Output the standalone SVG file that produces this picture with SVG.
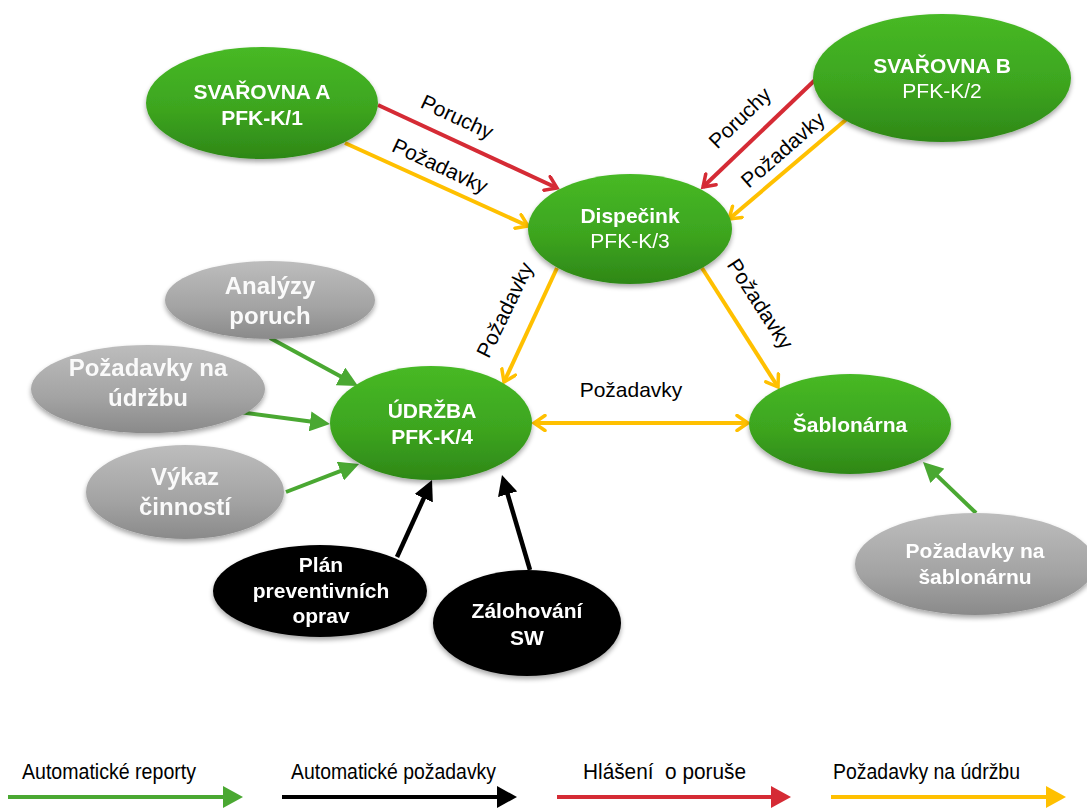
<svg xmlns="http://www.w3.org/2000/svg" width="1087" height="808" viewBox="0 0 1087 808">
  <style>
    .lbl { font-family: "Liberation Sans", Arial, sans-serif; font-size: 21px; fill: #000; text-anchor: middle; }
    .nt { font-family: "Liberation Sans", Arial, sans-serif; font-size: 21px; fill: #fff; text-anchor: middle; }
    .b { font-weight: bold; }
    .gt { font-family: "Liberation Sans", Arial, sans-serif; font-size: 24px; font-weight: bold; fill: #fafafa; text-anchor: middle; }
    .leg { font-family: "Liberation Sans", Arial, sans-serif; font-size: 22px; fill: #000; white-space: pre; }
    .red { stroke: #d52b35; stroke-width: 4; fill: none; }
    .yel { stroke: #ffc000; stroke-width: 4; fill: none; }
    .grn { stroke: #4aa832; stroke-width: 4; fill: none; }
    .blk { stroke: #000; stroke-width: 4.5; fill: none; }
  </style>
  <defs>
    <linearGradient id="greenFill" x1="0" y1="0" x2="0" y2="1">
      <stop offset="0" stop-color="#47b925"/>
      <stop offset="0.55" stop-color="#3da51f"/>
      <stop offset="1" stop-color="#2e8717"/>
    </linearGradient>
    <linearGradient id="grayFill" x1="0" y1="0" x2="0" y2="1">
      <stop offset="0" stop-color="#bdbdbd"/>
      <stop offset="0.6" stop-color="#a3a3a3"/>
      <stop offset="1" stop-color="#8a8a8a"/>
    </linearGradient>
    <filter id="shadow" x="-20%" y="-20%" width="140%" height="150%">
      <feGaussianBlur in="SourceAlpha" stdDeviation="2.5"/>
      <feOffset dy="3" result="o"/>
      <feComponentTransfer><feFuncA type="linear" slope="0.35"/></feComponentTransfer>
      <feMerge><feMergeNode/><feMergeNode in="SourceGraphic"/></feMerge>
    </filter>
    <!-- open chevron heads -->
    <marker id="vRed" viewBox="0 0 18 18" refX="15" refY="9" markerWidth="18" markerHeight="18" markerUnits="userSpaceOnUse" orient="auto">
      <path d="M4,1.5 L15,9 L4,16.5" fill="none" stroke="#d52b35" stroke-width="3.5" stroke-linecap="round"/>
    </marker>
    <marker id="vYel" viewBox="0 0 18 18" refX="15" refY="9" markerWidth="18" markerHeight="18" markerUnits="userSpaceOnUse" orient="auto-start-reverse">
      <path d="M4,1.5 L15,9 L4,16.5" fill="none" stroke="#ffc000" stroke-width="3.5" stroke-linecap="round"/>
    </marker>
    <!-- filled triangle heads; the line stops inside the base -->
    <marker id="tGrn" viewBox="0 0 20 20" refX="4" refY="10" markerWidth="20" markerHeight="20" markerUnits="userSpaceOnUse" orient="auto">
      <path d="M0,0 L20,10 L0,20 Z" fill="#4aa832"/>
    </marker>
    <marker id="tBlk" viewBox="0 0 20 20" refX="4" refY="10" markerWidth="20" markerHeight="20" markerUnits="userSpaceOnUse" orient="auto">
      <path d="M0,0 L20,10 L0,20 Z" fill="#000"/>
    </marker>
    <marker id="lGrn" viewBox="0 0 20 22" refX="4" refY="11" markerWidth="20" markerHeight="22" markerUnits="userSpaceOnUse" orient="auto">
      <path d="M0,0 L20,11 L0,22 Z" fill="#4aa832"/>
    </marker>
    <marker id="lBlk" viewBox="0 0 20 22" refX="4" refY="11" markerWidth="20" markerHeight="22" markerUnits="userSpaceOnUse" orient="auto">
      <path d="M0,0 L20,11 L0,22 Z" fill="#000"/>
    </marker>
    <marker id="lRed" viewBox="0 0 20 22" refX="4" refY="11" markerWidth="20" markerHeight="22" markerUnits="userSpaceOnUse" orient="auto">
      <path d="M0,0 L20,11 L0,22 Z" fill="#d52b35"/>
    </marker>
    <marker id="lYel" viewBox="0 0 20 22" refX="4" refY="11" markerWidth="20" markerHeight="22" markerUnits="userSpaceOnUse" orient="auto">
      <path d="M0,0 L20,11 L0,22 Z" fill="#ffc000"/>
    </marker>
  </defs>

  <rect width="1087" height="808" fill="#fff"/>

  <!-- connectors -->
  <g id="connectors">
    <line class="red" x1="378" y1="105" x2="557" y2="188" marker-end="url(#vRed)"/>
    <line class="yel" x1="345" y1="143" x2="528" y2="226" marker-end="url(#vYel)"/>
    <line class="red" x1="815" y1="80" x2="703" y2="187" marker-end="url(#vRed)"/>
    <line class="yel" x1="848" y1="118" x2="729" y2="219" marker-end="url(#vYel)"/>
    <line class="yel" x1="557" y1="268" x2="504" y2="382" marker-end="url(#vYel)"/>
    <line class="yel" x1="702" y1="268" x2="778" y2="387" marker-end="url(#vYel)"/>
    <line class="yel" x1="534" y1="423" x2="748" y2="423" marker-start="url(#vYel)" marker-end="url(#vYel)"/>
    <line class="grn" x1="270" y1="338" x2="344" y2="378.3" marker-end="url(#tGrn)"/>
    <line class="grn" x1="231" y1="411" x2="314.1" y2="421.9" marker-end="url(#tGrn)"/>
    <line class="grn" x1="286" y1="492" x2="344.1" y2="469.7" marker-end="url(#tGrn)"/>
    <line class="grn" x1="976" y1="513" x2="934.5" y2="473.1" marker-end="url(#tGrn)"/>
    <line class="blk" x1="397" y1="557" x2="425.4" y2="494.6" marker-end="url(#tBlk)"/>
    <line class="blk" x1="530" y1="570" x2="506.5" y2="490.4" marker-end="url(#tBlk)"/>

    <text class="lbl" transform="translate(457,117) rotate(25)" y="7">Poruchy</text>
    <text class="lbl" transform="translate(440,166) rotate(25)" y="7">Požadavky</text>
    <text class="lbl" transform="translate(740,118) rotate(-44)" y="7">Poruchy</text>
    <text class="lbl" transform="translate(783,150) rotate(-41)" y="7">Požadavky</text>
    <text class="lbl" transform="translate(505,310) rotate(-64)" y="7">Požadavky</text>
    <text class="lbl" transform="translate(760,304) rotate(57)" y="7">Požadavky</text>
    <text class="lbl" x="631" y="397">Požadavky</text>
  </g>

  <!-- nodes -->
  <g id="svarovna-a" filter="url(#shadow)">
    <ellipse cx="262" cy="103" rx="116" ry="56" fill="url(#greenFill)"/>
    <text class="nt b" x="262" y="99">SVAŘOVNA A</text>
    <text class="nt b" x="262" y="125">PFK-K/1</text>
  </g>
  <g id="svarovna-b" filter="url(#shadow)">
    <ellipse cx="942" cy="78" rx="129" ry="64" fill="url(#greenFill)"/>
    <text class="nt b" x="942" y="73">SVAŘOVNA B</text>
    <text class="nt" x="942" y="98">PFK-K/2</text>
  </g>
  <g id="dispecink" filter="url(#shadow)">
    <ellipse cx="630" cy="229" rx="102" ry="55" fill="url(#greenFill)"/>
    <text class="nt b" x="630" y="223">Dispečink</text>
    <text class="nt" x="630" y="248">PFK-K/3</text>
  </g>
  <g id="udrzba" filter="url(#shadow)">
    <ellipse cx="431" cy="423" rx="101" ry="57" fill="url(#greenFill)"/>
    <text class="nt b" x="432" y="418">ÚDRŽBA</text>
    <text class="nt b" x="432" y="444">PFK-K/4</text>
  </g>
  <g id="sablonarna" filter="url(#shadow)">
    <ellipse cx="850" cy="424" rx="101" ry="50" fill="url(#greenFill)"/>
    <text class="nt b" x="850" y="432">Šablonárna</text>
  </g>
  <g id="analyzy-poruch" filter="url(#shadow)">
    <ellipse cx="270" cy="300" rx="105" ry="39" fill="url(#grayFill)"/>
    <text class="gt" x="270" y="294">Analýzy</text>
    <text class="gt" x="270" y="324">poruch</text>
  </g>
  <g id="pozadavky-udrzba" filter="url(#shadow)">
    <ellipse cx="148" cy="389" rx="117" ry="44" fill="url(#grayFill)"/>
    <text class="gt" x="148" y="376">Požadavky na</text>
    <text class="gt" x="148" y="406">údržbu</text>
  </g>
  <g id="vykaz-cinnosti" filter="url(#shadow)">
    <ellipse cx="185" cy="492" rx="99" ry="47" fill="url(#grayFill)"/>
    <text class="gt" x="185" y="485">Výkaz</text>
    <text class="gt" x="185" y="515">činností</text>
  </g>
  <g id="plan-oprav" filter="url(#shadow)">
    <ellipse cx="320" cy="591" rx="107" ry="46" fill="#000"/>
    <text class="nt b" x="321" y="572">Plán</text>
    <text class="nt b" x="321" y="598">preventivních</text>
    <text class="nt b" x="321" y="623">oprav</text>
  </g>
  <g id="zalohovani-sw" filter="url(#shadow)">
    <ellipse cx="527" cy="623" rx="94" ry="53" fill="#000"/>
    <text class="nt b" x="527" y="618">Zálohování</text>
    <text class="nt b" x="527" y="645">SW</text>
  </g>
  <g id="pozadavky-sablonarna" filter="url(#shadow)">
    <ellipse cx="975" cy="564" rx="120" ry="51" fill="url(#grayFill)"/>
    <text class="nt b" x="975" y="558">Požadavky na</text>
    <text class="nt b" x="975" y="584">šablonárnu</text>
  </g>

  <!-- legend -->
  <g id="legend">
    <text class="leg" x="22" y="779" textLength="174" lengthAdjust="spacingAndGlyphs">Automatické reporty</text>
    <text class="leg" x="291" y="779" textLength="205" lengthAdjust="spacingAndGlyphs">Automatické požadavky</text>
    <text class="leg" x="583" y="779" textLength="163" lengthAdjust="spacingAndGlyphs" xml:space="preserve">Hlášení  o poruše</text>
    <text class="leg" x="833" y="779" textLength="187" lengthAdjust="spacingAndGlyphs">Požadavky na údržbu</text>
    <line x1="8" y1="797" x2="227" y2="797" stroke="#4aa832" stroke-width="4" marker-end="url(#lGrn)"/>
    <line x1="282" y1="797" x2="501" y2="797" stroke="#000" stroke-width="4" marker-end="url(#lBlk)"/>
    <line x1="557" y1="797" x2="775" y2="797" stroke="#d52b35" stroke-width="4" marker-end="url(#lRed)"/>
    <line x1="831" y1="797" x2="1050" y2="797" stroke="#ffc000" stroke-width="4" marker-end="url(#lYel)"/>
  </g>
</svg>
